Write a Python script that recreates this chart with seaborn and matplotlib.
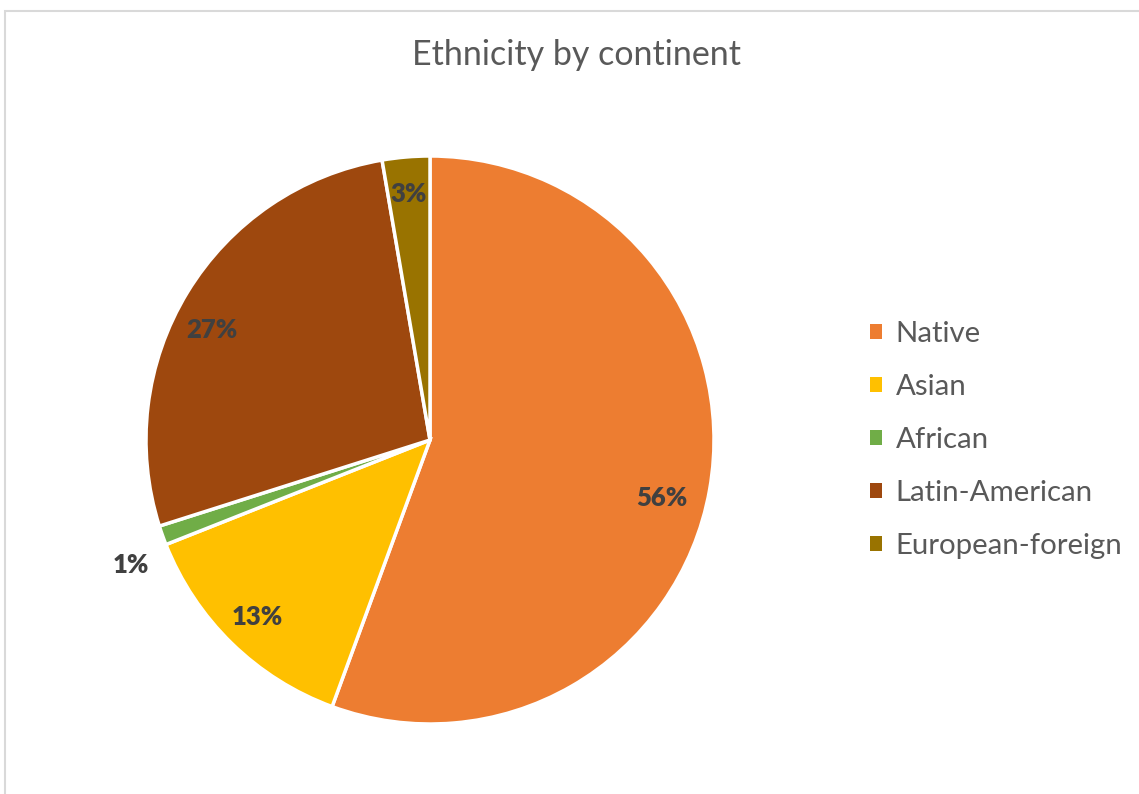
import numpy as np
import matplotlib
matplotlib.use("Agg")
import matplotlib.pyplot as plt
import matplotlib.patches as mpatches
import seaborn as sns

# Share of population by continent of origin (percent)
categories = ["Native", "Asian", "African", "Latin-American", "European-foreign"]
shares = [55.6, 13.4, 1.1, 27.2, 2.7]
colors = ["#ED7D31", "#FFC000", "#70AD47", "#9E480E", "#997300"]
title = "Ethnicity by continent"

sns.set_theme(style="white")
plt.rcParams["font.family"] = ["Lato", "DejaVu Sans"]

W, H = 1139, 794
fig = plt.figure(figsize=(W / 100, H / 100), dpi=100)
fig.patch.set_facecolor("white")

# light chart-area border (left and top edges visible)
fig.add_artist(mpatches.Rectangle((5 / W, -0.1), 1.2, 1.1 - 11 / H,
                                  transform=fig.transFigure, fill=False,
                                  edgecolor="#D9D9D9", linewidth=1.5))

cx, cy, R = 430, 440, 284
ax = fig.add_axes([(cx - R) / W, (H - cy - R) / H, 2 * R / W, 2 * R / H])

palette = sns.color_palette(colors)
wedges, texts, autotexts = ax.pie(
    shares, colors=palette, startangle=90, counterclock=False,
    autopct="%.0f%%", pctdistance=0.87,
    wedgeprops=dict(edgecolor="white", linewidth=2.5),
    textprops=dict(color="#404040", fontsize=18.5, fontweight="heavy"),
)
ax.set_xlim(-1, 1)
ax.set_ylim(-1, 1)
ax.set_aspect("equal")


def place_label(name, radius, turn):
    """Put a slice's percentage label at a radius, rotated off the slice middle."""
    k = categories.index(name)
    w = wedges[k]
    mid = np.deg2rad((w.theta1 + w.theta2) / 2 + turn)
    autotexts[k].set_position((radius * np.cos(mid), radius * np.sin(mid)))


# the thin African slice gets its label outside the pie
place_label("African", 1.14, 3)
place_label("Native", 0.84, -4)
place_label("Latin-American", 0.86, 4.5)

fig.text(577 / W, 1 - 55 / H, title, ha="center", va="center",
         fontsize=24.5, color="#595959")

handles = [mpatches.Patch(facecolor=c, edgecolor="none") for c in palette]
fig.legend(handles, categories, loc="center left",
           bbox_to_anchor=(870 / W, 1 - 440 / H), frameon=False,
           fontsize=21.2, labelcolor="#595959", handlelength=0.42,
           handleheight=0.42, handletextpad=0.45, labelspacing=0.92,
           borderaxespad=0, borderpad=0)

fig.savefig("out.png", dpi=100, facecolor="white")
